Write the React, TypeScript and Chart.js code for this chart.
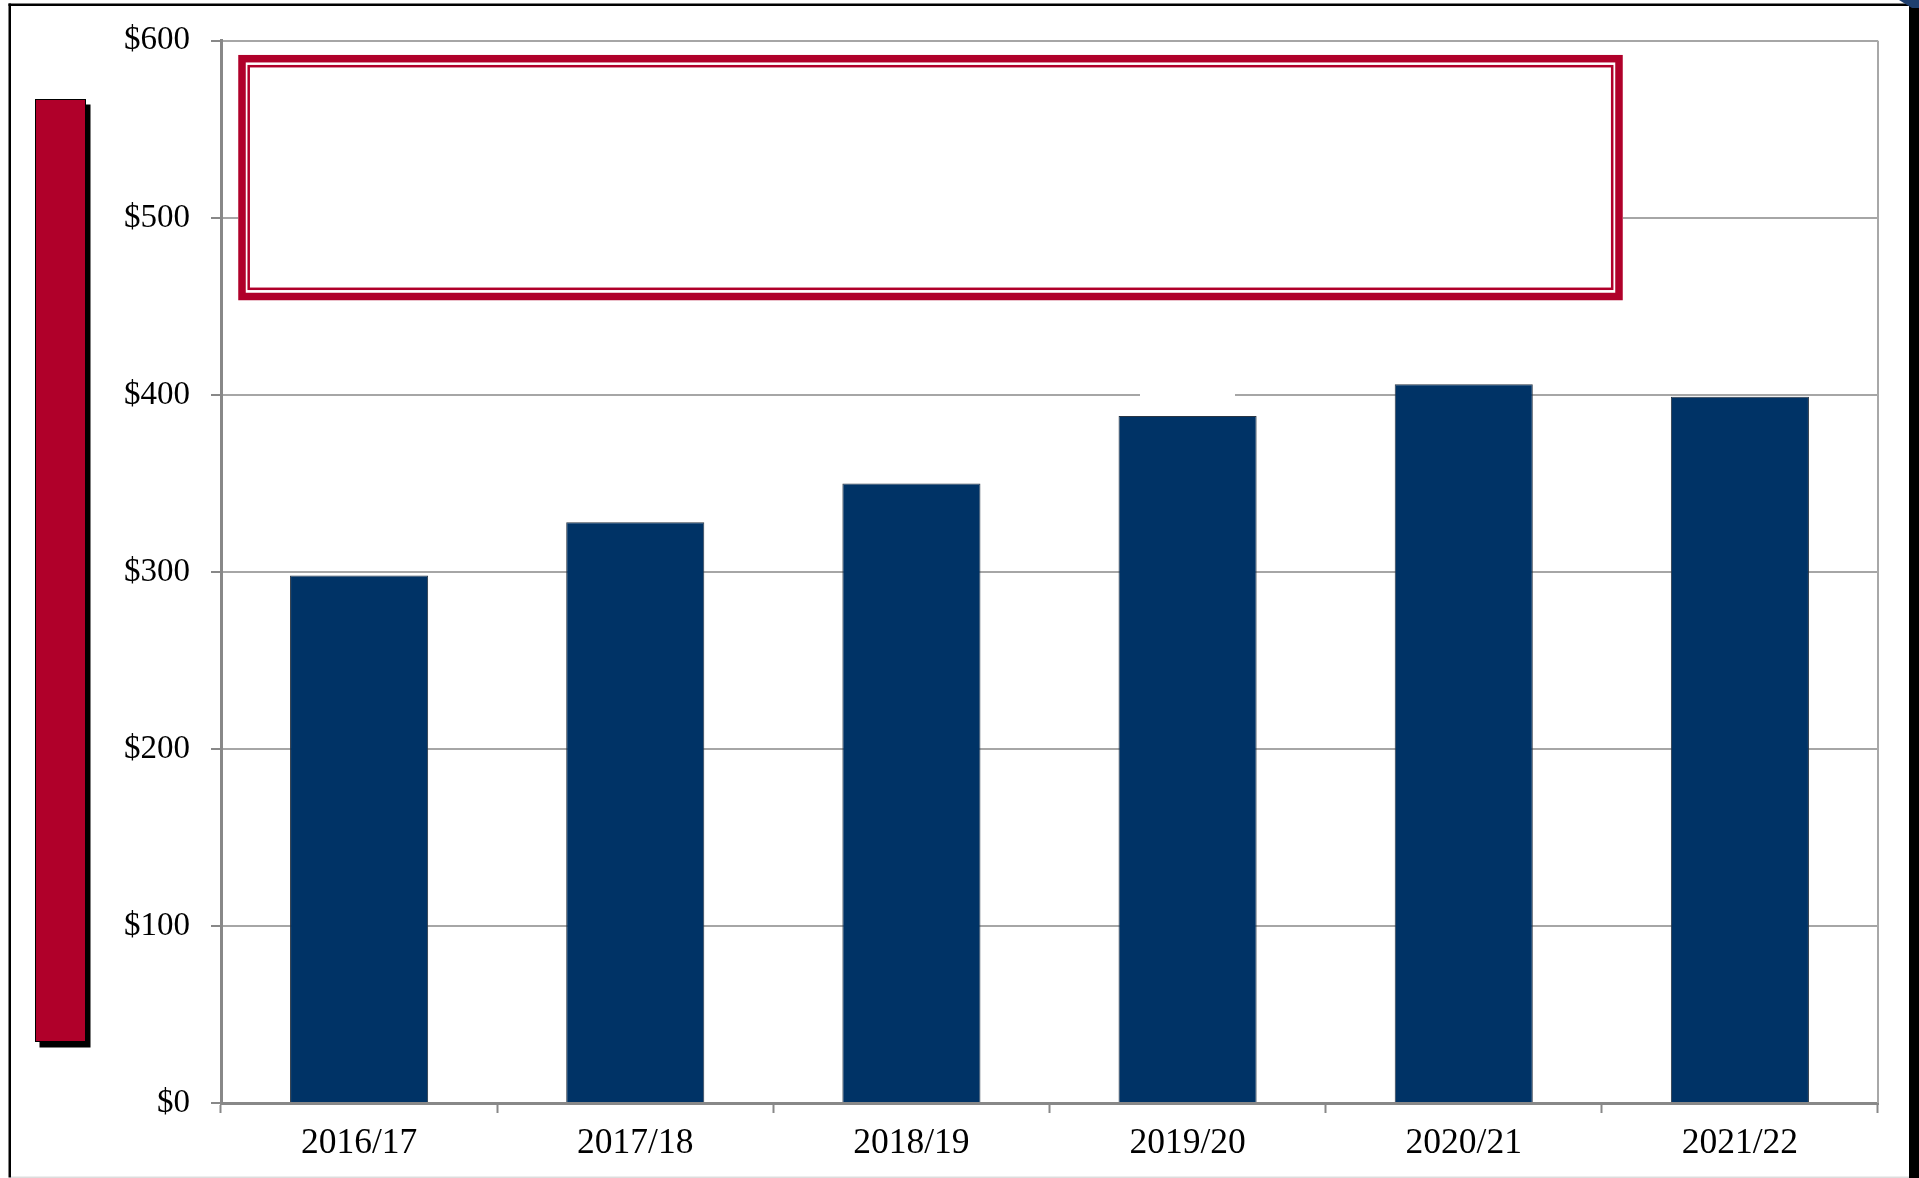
import React, { useEffect, useRef } from "react";
import { Chart, registerables } from "chart.js";

Chart.register(...registerables);

const categories = ["2016/17", "2017/18", "2018/19", "2019/20", "2020/21", "2021/22"];
const values = [298, 328, 350, 388, 406, 399];
const yTickValues = [0, 100, 200, 300, 400, 500, 600];
const yTickLabel = (v: number) => "$" + v;

const W = 1919;
const H = 1178;
const RED = "#B0002A";
const BLUE = "#003366";

const decorPlugin = {
  id: "decor",
  beforeDraw(chart: any) {
    const ctx = chart.ctx;
    ctx.save();
    ctx.fillStyle = "#ffffff";
    ctx.fillRect(0, 0, W, H);
    // outer frame
    ctx.fillStyle = "#000000";
    ctx.fillRect(8.5, 3.5, 1901, 2.5); // top
    ctx.fillRect(8.5, 3.5, 2.5, 1174); // left
    ctx.fillRect(1909, 4, 10, 1174); // right thick
    ctx.fillStyle = "#dddddd";
    ctx.fillRect(11, 1176.5, 1898, 1.5); // bottom
    // corner artifact
    ctx.fillStyle = "#1f3f6f";
    ctx.beginPath();
    ctx.moveTo(1899, 0);
    ctx.lineTo(1919, 0);
    ctx.lineTo(1919, 8);
    ctx.lineTo(1912, 8);
    ctx.closePath();
    ctx.fill();
    // red vertical bar with shadow
    ctx.fillStyle = "#000000";
    ctx.fillRect(39.5, 104.5, 51, 943);
    ctx.fillStyle = RED;
    ctx.fillRect(35.5, 99.5, 50, 942);
    ctx.strokeStyle = "#000000";
    ctx.lineWidth = 1;
    ctx.strokeRect(35.5, 99.5, 50, 942);
    ctx.restore();
  },
  afterDatasetsDraw(chart: any) {
    const ctx = chart.ctx;
    const a = chart.chartArea;
    ctx.save();
    // plot right border
    ctx.strokeStyle = "#a8a8a8";
    ctx.lineWidth = 2;
    ctx.beginPath();
    ctx.moveTo(a.right, a.top);
    ctx.lineTo(a.right, a.bottom);
    ctx.stroke();
    // white gap on gridline
    ctx.fillStyle = "#ffffff";
    ctx.fillRect(1140, 386, 95, 14);
    // red double-bordered box
    ctx.fillStyle = "#ffffff";
    ctx.fillRect(238, 55, 1385, 246);
    ctx.strokeStyle = RED;
    ctx.lineWidth = 7.5;
    ctx.strokeRect(242, 58.7, 1377, 237.8);
    ctx.lineWidth = 2.5;
    ctx.strokeRect(248.7, 66.2, 1363.5, 222.6);
    ctx.restore();
  },
};

export default function App() {
  const ref = useRef<HTMLCanvasElement | null>(null);
  useEffect(() => {
    if (!ref.current) return;
    const chart = new Chart(ref.current, {
      type: "bar",
      data: {
        labels: categories,
        datasets: [
          {
            data: values,
            backgroundColor: BLUE,
            borderColor: "#2a3644",
            borderWidth: 1,
            categoryPercentage: 1,
            barPercentage: 0.5,
          },
        ],
      },
      options: {
        animation: false,
        responsive: false,
        devicePixelRatio: 1,
        layout: { padding: { left: 0, right: 41, top: 38, bottom: 0 } },
        plugins: { legend: { display: false }, tooltip: { enabled: false } },
        scales: {
          x: {
            grid: {
              display: true,
              drawOnChartArea: false,
              offset: true,
              tickLength: 10,
              tickColor: "#888888",
              tickWidth: 2,
            },
            border: { color: "#888888", width: 3 },
            ticks: {
              color: "#000000",
              font: { family: "'Liberation Serif', 'Times New Roman', serif", size: 35.5 },
              padding: 9,
              maxRotation: 0,
            },
            afterFit: (s: any) => {
              s.height = 75;
            },
          },
          y: {
            min: 0,
            max: 600,
            afterBuildTicks: (s: any) => {
              s.ticks = yTickValues.map((v) => ({ value: v }));
            },
            grid: {
              color: "#a6a6a6",
              lineWidth: 2,
              tickLength: 10,
              tickColor: "#888888",
              tickWidth: 2,
            },
            border: { color: "#888888", width: 3 },
            ticks: {
              color: "#000000",
              font: { family: "'Liberation Serif', 'Times New Roman', serif", size: 33 },
              padding: 21,
              callback: (v: any) => yTickLabel(Number(v)),
            },
            afterFit: (s: any) => {
              s.width = 221;
            },
          },
        },
      },
      plugins: [decorPlugin],
    });
    return () => chart.destroy();
  }, []);
  return (
    <div style={{ position: "absolute", left: 0, top: 0, width: W, height: H, overflow: "hidden" }}>
      <canvas ref={ref} width={W} height={H} style={{ width: W, height: H, display: "block" }} />
    </div>
  );
}
